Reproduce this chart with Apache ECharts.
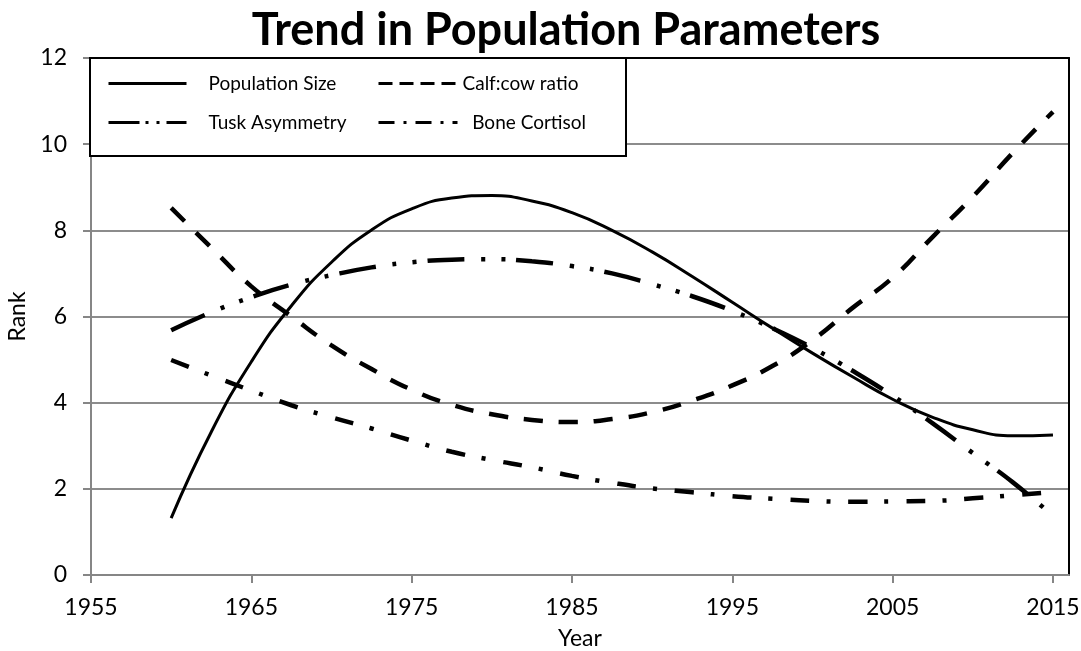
<!DOCTYPE html>
<html>
<head>
<meta charset="utf-8">
<title>Trend in Population Parameters</title>
<script src="https://cdn.jsdelivr.net/npm/echarts@6/dist/echarts.min.js"></script>
<style>
  html, body { margin: 0; padding: 0; background: #fff; }
  #chart { width: 1081px; height: 651px; }
</style>
</head>
<body>
<div id="chart"></div>
<script>
// values, every 2.5 years
var years = [1960, 1962.5, 1965, 1967.5, 1970, 1972.5, 1975, 1977.5, 1980, 1982.5, 1985, 1987.5,
  1990, 1992.5, 1995, 1997.5, 2000, 2002.5, 2005, 2007.5, 2010, 2012.5, 2015];
var populationSize = [1.32, 3.32, 4.95, 6.25, 7.26, 8.01, 8.5, 8.75, 8.81, 8.68, 8.41, 8.0,
  7.5, 6.93, 6.33, 5.73, 5.15, 4.6, 4.08, 3.66, 3.37, 3.23, 3.25];
var calfCowRatio = [8.52, 7.6, 6.7, 6.0, 5.33, 4.78, 4.3, 3.95, 3.73, 3.6, 3.55, 3.62,
  3.78, 4.05, 4.4, 4.85, 5.45, 6.2, 6.9, 7.85, 8.78, 9.8, 10.75];
var tuskAsymmetry = [5.68, 6.1, 6.45, 6.74, 6.96, 7.14, 7.26, 7.32, 7.33, 7.28, 7.17, 7.0,
  6.75, 6.47, 6.13, 5.73, 5.27, 4.74, 4.16, 3.52, 2.83, 2.15, 1.37];
var boneCortisol = [4.99, 4.63, 4.28, 3.94, 3.66, 3.4, 3.12, 2.86, 2.67, 2.5, 2.3, 2.14,
  2.01, 1.92, 1.83, 1.77, 1.72, 1.7, 1.71, 1.72, 1.78, 1.85, 1.93];
var xTicks = [1955, 1965, 1975, 1985, 1995, 2005, 2015];

var FONT = 'Lato';

function pairs(vals) {
  return years.map(function (y, i) { return [y, vals[i]]; });
}

var chart = echarts.init(document.getElementById('chart'));

function curve(name, vals, width, dash) {
  return {
    name: name,
    type: 'line',
    data: pairs(vals),
    smooth: true,
    symbol: 'none',
    color: '#000',
    xAxisIndex: 0,
    yAxisIndex: 0,
    lineStyle: { color: '#000', width: width, type: dash, cap: 'butt' },
    emphasis: { disabled: true }
  };
}

var noSymbol = { opacity: 0 };

var option = {
  animation: false,
  backgroundColor: '#fff',
  title: {
    text: 'Trend in Population Parameters',
    left: 561,
    textAlign: 'center',
    top: 3,
    textStyle: { fontFamily: FONT, fontWeight: 'bold', fontSize: 45, color: '#000' }
  },
  grid: { left: 91, right: 12, top: 58, bottom: 76, outerBoundsMode: 'none' },
  graphic: [{
    type: 'rect',
    z: 3,
    shape: { x: 90, y: 58, width: 536, height: 98 },
    style: { fill: '#fff', stroke: '#000', lineWidth: 2 }
  }],
  legend: [{
    orient: 'vertical',
    left: 107,
    top: 74,
    padding: 0,
    itemWidth: 78,
    itemHeight: 14,
    itemGap: 20,
    textStyle: { fontFamily: FONT, fontSize: 19, color: '#000', padding: [0, 0, 0, 17] },
    data: [
      { name: 'Population Size', itemStyle: noSymbol, lineStyle: { width: 3, type: 'solid' } },
      { name: 'Tusk Asymmetry', itemStyle: noSymbol, lineStyle: { width: 3, type: [31, 6, 3, 8, 3, 7] } }
    ]
  }, {
    orient: 'vertical',
    left: 377,
    top: 74,
    padding: 0,
    itemWidth: 79,
    itemHeight: 14,
    itemGap: 20,
    textStyle: { fontFamily: FONT, fontSize: 19, color: '#000' },
    formatter: function (name) {
      return name === 'Bone Cortisol' ? '  ' + name : name;
    },
    data: [
      { name: 'Calf:cow ratio', itemStyle: noSymbol, lineStyle: { width: 3, type: [14, 7] } },
      { name: 'Bone Cortisol', itemStyle: noSymbol, lineStyle: { width: 3, type: [16, 9, 3, 9] } }
    ]
  }],
  xAxis: [{
    type: 'value',
    min: 1955,
    max: 2016,
    interval: 10,
    name: 'Year',
    nameLocation: 'middle',
    nameGap: 52,
    nameTextStyle: { fontFamily: FONT, fontSize: 23, color: '#000' },
    axisLine: { show: true, lineStyle: { color: '#868686', width: 2 } },
    axisTick: { show: true, length: 8, customValues: xTicks, lineStyle: { color: '#868686', width: 2 } },
    axisLabel: {
      customValues: xTicks,
      margin: 21,
      fontFamily: FONT,
      fontSize: 23,
      color: '#000',
      formatter: function (v) { return String(v); }
    },
    splitLine: { show: false }
  }, {
    type: 'value',
    position: 'top',
    min: 1955,
    max: 2016,
    axisLine: { show: true, onZero: false, lineStyle: { color: '#000', width: 2 } },
    axisTick: { show: false },
    axisLabel: { show: false },
    splitLine: { show: false }
  }],
  yAxis: [{
    type: 'value',
    min: 0,
    max: 12,
    interval: 2,
    name: 'Rank',
    nameLocation: 'middle',
    nameGap: 62,
    nameTextStyle: { fontFamily: FONT, fontSize: 23, color: '#000' },
    axisLine: { show: true, lineStyle: { color: '#868686', width: 2 } },
    axisTick: { show: true, length: 8, lineStyle: { color: '#868686', width: 2 } },
    axisLabel: { margin: 24, fontFamily: FONT, fontSize: 23, color: '#000' },
    splitLine: { show: true, lineStyle: { color: '#8c8c8c', width: 2 } }
  }, {
    type: 'value',
    position: 'right',
    min: 0,
    max: 12,
    axisLine: { show: true, onZero: false, lineStyle: { color: '#000', width: 2 } },
    axisTick: { show: false },
    axisLabel: { show: false },
    splitLine: { show: false }
  }],
  series: [
    curve('Population Size', populationSize, 3, 'solid'),
    curve('Calf:cow ratio', calfCowRatio, 4.5, [19, 16]),
    curve('Tusk Asymmetry', tuskAsymmetry, 4.5, [37, 17, 4, 16, 4, 11]),
    curve('Bone Cortisol', boneCortisol, 4.5, [19, 17, 4, 18])
  ]
};

chart.setOption(option);
</script>
</body>
</html>
